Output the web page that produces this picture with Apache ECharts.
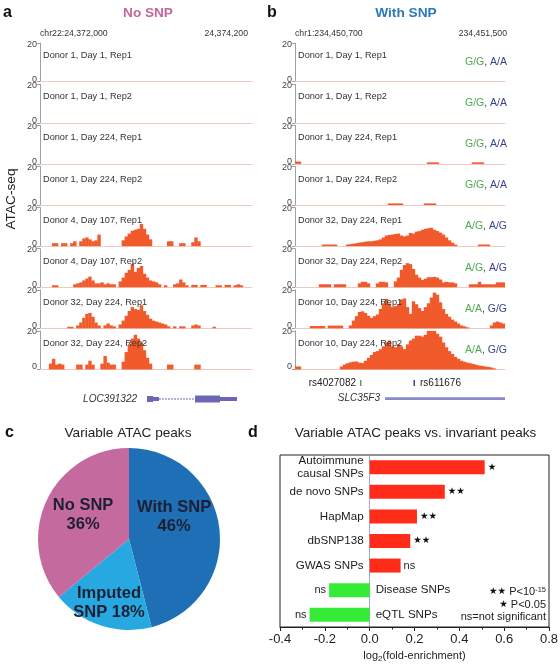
<!DOCTYPE html>
<html><head><meta charset="utf-8">
<script src="https://cdn.jsdelivr.net/npm/echarts@6/dist/echarts.min.js"></script>
<style>html,body{margin:0;padding:0;background:#fff}#c{width:560px;height:666px}</style>
</head><body><div id="c"></div>
<script>
// ---------------- DATA ----------------
const trackLabelsA = ['Donor 1, Day 1, Rep1','Donor 1, Day 1, Rep2','Donor 1, Day 224, Rep1','Donor 1, Day 224, Rep2','Donor 4, Day 107, Rep1','Donor 4, Day 107, Rep2','Donor 32, Day 224, Rep1','Donor 32, Day 224, Rep2'];
const trackLabelsB = ['Donor 1, Day 1, Rep1','Donor 1, Day 1, Rep2','Donor 1, Day 224, Rep1','Donor 1, Day 224, Rep2','Donor 32, Day 224, Rep1','Donor 32, Day 224, Rep2','Donor 10, Day 224, Rep1','Donor 10, Day 224, Rep2'];
const genoSnp1 = ['G/G','G/G','G/G','G/G','A/G','A/G','A/A','A/A'];
const genoSnp2 = ['A/A','A/A','A/A','A/A','A/G','A/G','G/G','G/G'];
const trackTickLabels = [0, 20];

// coverage per 70 bins (panel a)
const a1 = [0,0,0,0,0,0,0,0,0,0, 0,0,0,0,0,0,0,0,0,0, 0,0,0,0,0,0,0,0,0,0, 0,0,0,0,0,0,0,0,0,0, 0,0,0,0,0,0,0,0,0,0, 0,0,0,0,0,0,0,0,0,0, 0,0,0,0,0,0,0,0,0,0];
const a2 = [0,0,0,0,0,0,0,0,0,0, 0,0,0,0,0,0,0,0,0,0, 0,0,0,0,0,0,0,0,0,0, 0,0,0,0,0,0,0,0,0,0, 0,0,0,0,0,0,0,0,0,0, 0,0,0,0,0,0,0,0,0,0, 0,0,0,0,0,0,0,0,0,0];
const a3 = [0,0,0,0,0,0,0,0,0,0, 0,0,0,0,0,0,0,0,0,0, 0,0,0,0,0,0,0,0,0,0, 0,0,0,0,0,0,0,0,0,0, 0,0,0,0,0,0,0,0,0,0, 0,0,0,0,0,0,0,0,0,0, 0,0,0,0,0,0,0,0,0,0];
const a4 = [0,0,0,0,0,0,0,0,0,0, 0,0,0,0,0,0,0,0,0,0, 0,0,0,0,0,0,0,0,0,0, 0,0,0,0,0,0,0,0,0,0, 0,0,0,0,0,0,0,0,0,0, 0,0,0,0,0,0,0,0,0,0, 0,0,0,0,0,0,0,0,0,0];
const a5 = [0,0,0,0,1.5,1.5,0,1.5,1.5,0, 1.5,2.5,0,2.5,4,4.5,3.5,2.5,3,6, 0,0,0,0,0,0,0,3,5,6.5, 8,8.5,9,11.5,9,6,3.5,0,0,0, 0,0,2.5,2.5,0,0,1.5,1.5,0,0, 2,4.5,2.5,0,0,0,0,0,0,0, 0,0,0,0,0,0,0,0,0,0];
const a6 = [0,0,0,0,1,1,0,0,0,0, 0,1.5,2,2.5,3.5,4.5,5.5,3.5,2,2, 2.5,1.5,2,1.5,1.5,0,3,5,7.5,9, 12,8,10,11,7,5,3.5,3,2.5,1.5, 0,1,0,0,1.5,2,4,2.5,1,0, 1.2,1.2,0,1.2,1.2,0,0,0,1,1, 0,1.2,1.2,0,1,1.5,1,0,0,0];
const a7 = [0,0,0,0,0,0,0,0,0,0.8, 0.8,0,1.5,3,5.5,7.5,8,6,3,1.5, 0,1.5,2.5,1.5,1,0,2,4,6.5,9, 11,10,9.5,12,9,7,5,4,3.5,3, 2.5,2,1,0,1,0,1,1,0,0, 1.5,2,1.5,0,0,0,0,0.8,0,0, 0,0,0,0,0,0,0,0,0,0];
const a8 = [0,0,0,3,5.5,2.5,3,2.5,0,0, 0,0,2.5,2.5,0,2.5,4.5,2.5,0,0, 3,7,3.5,2.5,2.5,0,0,4,9,13, 16,18,16,14,10,6,3,0,0,0, 0,0,2.5,2.5,0,0,0,0,0,0, 0,2.5,2.5,0,0,0,0,0,0,0, 0,0,0,0,0,0,0,0,0,0];
// coverage per 70 bins (panel b)
const b1 = [0,0,0,0,0,0,0,0,0,0, 0,0,0,0,0,0,0,0,0,0, 0,0,0,0,0,0,0,0,0,0, 0,0,0,0,0,0,0,0,0,0, 0,0,0,0,0,0,0,0,0,0, 0,0,0,0,0,0,0,0,0,0, 0,0,0,0,0,0,0,0,0,0];
const b2 = [0,0,0,0,0,0,0,0,0,0, 0,0,0,0,0,0,0,0,0,0, 0,0,0,0,0,0,0,0,0,0, 0,0,0,0,0,0,0,0,0,0, 0,0,0,0,0,0,0,0,0,0, 0,0,0,0,0,0,0,0,0,0, 0,0,0,0,0,0,0,0,0,0];
const b3 = [1.2,1.2,0,0,0,0,0,0,0,0, 0,0,0,0,0,0,0,0,0,0, 0,0,0,0,0,0,0,0,0,0, 0,0,0,0,0,0,0,0,0,0, 0,0,0,0,0.8,0.8,0.8,0.8,0,0, 0,0,0,0,0,0,0,0,0,0.8, 0.8,0.8,0.8,0,0,0,0,0,0,0];
const b4 = [0,0,0,0,0,0,0,0,0,0, 0,0,0,0,0,0,0,0,0,0, 0,0,0,0,0,0,0,0,0,0, 0,0.8,0.8,0.8,0.8,0.8,0,0,0,0, 0,0,0,0.8,0.8,0.8,0.8,0,0,0, 0,0,0,0,0,0,0,0,0,0, 0,0,0,0,0,0,0,0,0,0];
const b5 = [0,0,0,0,0,0,0,0,0,0.8, 0.8,0.8,0.8,0.8,0,0,0,0.8,1,1.2, 1.5,1.8,2,2.3,2.5,2.5,2.8,3,3.5,4.5, 5.5,5.8,6,6.3,6.5,5.5,5,5.5,6.8,6.5, 7.5,7.8,8.5,9,9.3,9.5,8.5,7.8,7,6, 4.5,3,1.8,0.8,0,0,0,0,0,0, 0,0.8,0.8,0.8,0.8,0,0,0,0,0];
const b6 = [0,0,0,0,0,0,0,0,1.5,1.5, 1.5,1.5,0,1.5,1.5,1.5,1.5,0,0,0, 0,2,2.8,2.8,2,0,0,2,2.8,2.8, 2.5,0,0,3,5,9,11.5,12.5,12,9.5, 6.5,5,3.8,4.5,5.2,5.2,5.4,5,4,2.5, 2.8,2.5,2.5,2,0,0,0,0,1.5,1.5, 1.5,2.8,1.5,1.5,1.5,1.5,1.5,2.5,2.5,2.5];
const b7 = [0,0,0,0,0,1.2,1.2,1.2,1.2,1.2, 0,1.4,1.4,1.4,1.4,1.4,0,0,1.5,4, 6.3,8.5,8.8,8,6.5,5.4,6.3,7.2,10,13, 15.3,12.8,11,11.5,12.5,15,15.5,11,7.5,14, 12.5,10.5,9,11,13,16,18.5,17.5,13.5,10, 7.5,6,4.5,3.5,2.5,1.5,1,0.5,0,0, 0,0,0,0,0,1.5,3,3.5,3,2.5];
const b8 = [1.5,1.5,0,0,0,0,0,0,0,0, 0,0,0,0,0,1.5,2.5,3.2,3.7,4, 4.1,3.5,3.3,4.5,6,7.5,9,9.5,10.5,12, 14,15,12,11.5,13,12,10.5,13,15,16, 17.5,17.5,17,18,20,20,20,18.5,17,14, 11.5,9.5,8,6.5,5.5,4.5,4,3.5,3.2,2.8, 2.4,2,1.8,1.5,1.3,1,0.5,0,0,0];

// panel c
const pieNames = ['With SNP', 'Imputed SNP', 'No SNP'];
const pieValues = [46, 18, 36];

// panel d
const dCats = ['Autoimmune\ncausal SNPs', 'de novo SNPs', 'HapMap', 'dbSNP138', 'GWAS SNPs', 'Disease SNPs', 'eQTL SNPs'];
const dVals = [0.513, 0.335, 0.211, 0.181, 0.138, -0.181, -0.268];
const dSig = ['★', '★★', '★★', '★★', 'ns', 'ns', 'ns'];
const dTicks = [-0.4, -0.2, 0.0, 0.2, 0.4, 0.6, 0.8];

// ---------------- LAYOUT / STYLE ----------------
const FF = '"Liberation Sans", Arial, "DejaVu Sans", sans-serif';
const TRACK_COLOR = '#f15a2b';
const TOP0 = 43.2, STEP = 41.1, TH = 38.5;
const bins = Array.from({length: a1.length}, (_, i) => String(i));

const grids = [], xAxes = [], yAxes = [], series = [], graphics = [];

function addPanel(tracks, left, width) {
  tracks.forEach((d, i) => {
    const k = grids.length;
    grids.push({left: left, top: TOP0 + STEP * i, width: width, height: TH, containLabel: false, outerBoundsMode: 'none'});
    xAxes.push({gridIndex: k, type: 'category', data: bins, boundaryGap: true,
      axisLine: {show: true, lineStyle: {color: '#efc8be', width: 1}}, axisTick: {show: false}, axisLabel: {show: false}, splitLine: {show: false}});
    yAxes.push({gridIndex: k, type: 'value', min: trackTickLabels[0], max: trackTickLabels[1], interval: trackTickLabels[1],
      axisLine: {show: true, lineStyle: {color: '#a0a0a0'}}, axisTick: {show: true, length: 3, lineStyle: {color: '#a0a0a0'}},
      axisLabel: {fontSize: 9, color: '#444', margin: 3, fontFamily: FF,
        formatter: v => v === 0 ? '{z|0}' : '{t|' + v + '}',
        rich: {z: {fontSize: 9, color: '#444', padding: [0, 0, 5, 0]}, t: {fontSize: 9, color: '#444', padding: [2, 0, 0, 0]}}},
      splitLine: {show: false}});
    series.push({type: 'bar', xAxisIndex: k, yAxisIndex: k, data: d, barWidth: 3.4, itemStyle: {color: TRACK_COLOR}, silent: true});
  });
}
addPanel([a1, a2, a3, a4, a5, a6, a7, a8], 40, 212);
addPanel([b1, b2, b3, b4, b5, b6, b7, b8], 295, 210);

// panel d grid
const dk = grids.length;
grids.push({left: 280, top: 455, width: 269, height: 172, show: true, borderColor: '#222', borderWidth: 1, backgroundColor: 'transparent', containLabel: false, outerBoundsMode: 'none'});
xAxes.push({gridIndex: dk, type: 'value', min: dTicks[0], max: dTicks[dTicks.length - 1], interval: 0.2,
  axisLine: {show: true, onZero: false, lineStyle: {color: '#222'}},
  axisTick: {show: true, length: 4, lineStyle: {color: '#222'}},
  minorTick: {show: true, splitNumber: 2, length: 2.5, lineStyle: {color: '#222'}},
  axisLabel: {fontSize: 13, color: '#222', margin: 6, fontFamily: FF, formatter: v => (Math.abs(v) < 1e-9 ? 0 : v).toFixed(1)},
  splitLine: {show: false}, minorSplitLine: {show: false},
  name: '{n|log}{s|2}{n|(fold-enrichment)}', nameLocation: 'middle', nameGap: 22,
  nameTextStyle: {rich: {n: {fontSize: 11, fontFamily: FF, color: '#222', lineHeight: 14}, s: {fontSize: 8, fontFamily: FF, color: '#222', verticalAlign: 'bottom', lineHeight: 9}}}
});
yAxes.push({gridIndex: dk, type: 'category', inverse: true, data: dCats,
  axisLine: {show: true, onZero: true, lineStyle: {color: '#8f98b5', type: 'dotted'}},
  axisTick: {show: false}, axisLabel: {show: false}, splitLine: {show: false}});
series.push({type: 'bar', xAxisIndex: dk, yAxisIndex: dk, barWidth: 14, silent: true,
  data: dVals.map(v => ({value: v, itemStyle: {color: v >= 0 ? '#fe2c18' : '#35eb35'}, label: {position: v >= 0 ? 'right' : 'left'}})),
  label: {show: true, distance: 3, fontFamily: FF,
    formatter: p => dSig[p.dataIndex] === 'ns' ? '{ns|ns}' : '{st|' + dSig[p.dataIndex] + '}',
    rich: {ns: {fontSize: 11, color: '#222', fontFamily: FF}, st: {fontSize: 9.5, color: '#111', fontFamily: '"DejaVu Sans", sans-serif'}}}
});
// category names placed at the zero line (left of it for positive bars, right for negative)
series.push({type: 'scatter', xAxisIndex: dk, yAxisIndex: dk, symbolSize: 0, silent: true, itemStyle: {color: '#111', opacity: 1},
  data: dCats.map((c, i) => ({value: [0, i], label: {position: dVals[i] >= 0 ? 'left' : 'right'}})),
  label: {show: true, distance: 6, fontSize: 11.6, lineHeight: 13.5, color: '#1a1a1a', fontFamily: FF, formatter: p => dCats[p.value[1]]}
});

// panel c pie
const pieColors = ['#1f6fb6', '#28a8e0', '#c56a9f'];
const pieLabelShift = [[-3, -16], [-5, 18], [-2, -3]];
series.push({type: 'pie', center: [129, 539], radius: 91, startAngle: 90, clockwise: true, silent: true, avoidLabelOverlap: false,
  data: pieNames.map((n, i) => ({name: n, value: pieValues[i], itemStyle: {color: pieColors[i]}})),
  label: {show: true, position: 'inside', fontSize: 16.5, fontWeight: 'bold', color: '#1d2033', lineHeight: 19, fontFamily: FF, align: 'center',
    formatter: p => p.dataIndex === 1 ? 'Imputed\nSNP ' + p.value + '%' : p.name + '\n' + p.value + '%'},
  labelLine: {show: false},
  labelLayout: p => ({dx: pieLabelShift[p.dataIndex][0], dy: pieLabelShift[p.dataIndex][1]})
});

// ---------------- TEXT / ANNOTATIONS ----------------
function txt(x, y, text, o) {
  o = o || {};
  const st = {text: text, fontSize: o.fs || 10, fontFamily: o.ff || FF, fontWeight: o.fw || 'normal', fontStyle: o.it ? 'italic' : 'normal',
    fill: o.c || '#222', align: o.al || 'left', textAlign: o.al || 'left', verticalAlign: 'middle', textVerticalAlign: 'middle'};
  if (o.rich) st.rich = o.rich;
  graphics.push({type: 'text', x: x, y: y, rotation: o.rot || 0, silent: true, z: 100, style: st});
}
function rect(x, y, w, h, c) { graphics.push({type: 'rect', silent: true, z: 100, shape: {x: x, y: y, width: w, height: h}, style: {fill: c}}); }

txt(3, 13, 'a', {fs: 16, fw: 'bold', c: '#111'});
txt(267, 13, 'b', {fs: 16, fw: 'bold', c: '#111'});
txt(148, 13, 'No SNP', {fs: 13.6, fw: 'bold', c: '#c0679b', al: 'center'});
txt(406, 13, 'With SNP', {fs: 13.7, fw: 'bold', c: '#2b7bbb', al: 'center'});
txt(40, 33.5, 'chr22:24,372,000', {fs: 8.7, c: '#333'});
txt(248, 33.5, '24,374,200', {fs: 8.7, c: '#333', al: 'right'});
txt(295, 33.5, 'chr1:234,450,700', {fs: 8.7, c: '#333'});
txt(507, 33.5, '234,451,500', {fs: 8.7, c: '#333', al: 'right'});
txt(11, 199, 'ATAC-seq', {fs: 13.7, c: '#222', al: 'center', rot: Math.PI / 2});

trackLabelsA.forEach((l, i) => txt(43, TOP0 + STEP * i + 12.5, l, {fs: 9.2, c: '#333'}));
trackLabelsB.forEach((l, i) => txt(298, TOP0 + STEP * i + 12.5, l, {fs: 9.2, c: '#333'}));
genoSnp1.forEach((g, i) => txt(507, TOP0 + STEP * i + 19, '{g|' + g + '}{b|, ' + genoSnp2[i] + '}', {fs: 10.5, al: 'right',
  rich: {g: {fill: '#4ea84e', fontSize: 10.5, fontFamily: FF}, b: {fill: '#3b4390', fontSize: 10.5, fontFamily: FF}}}));

// gene model LOC391322
txt(137, 399, 'LOC391322', {fs: 10, it: true, c: '#333', al: 'right'});
rect(147, 396, 6, 6, '#6b67b3');
rect(153, 397, 6, 4, '#6b67b3');
graphics.push({type: 'line', silent: true, shape: {x1: 159, y1: 399, x2: 195, y2: 399}, style: {stroke: '#6b67b3', lineWidth: 1.2, lineDash: [2, 1]}});
rect(195, 395.5, 25, 7, '#6b67b3');
rect(220, 397, 17, 4, '#6b67b3');
// SNPs and gene SLC35F3
txt(356, 383, 'rs4027082', {fs: 10, c: '#222', al: 'right'});
rect(360, 380, 1.5, 6, '#4ea84e');
rect(413.5, 380, 1.5, 6, '#3b4390');
txt(420, 383, 'rs611676', {fs: 10, c: '#222'});
txt(380, 398.5, 'SLC35F3', {fs: 10, it: true, c: '#333', al: 'right'});
rect(385, 397.3, 120, 2.7, '#8a88cc');

// panel c/d titles
txt(5, 433, 'c', {fs: 16, fw: 'bold', c: '#111'});
txt(248, 433, 'd', {fs: 16, fw: 'bold', c: '#111'});
txt(128, 433, 'Variable ATAC peaks', {fs: 13.6, c: '#222', al: 'center'});
txt(415.5, 433, 'Variable ATAC peaks vs. invariant peaks', {fs: 13.5, c: '#222', al: 'center'});
// panel d key
const keyRich = {s: {fontSize: 9.5, fill: '#111', fontFamily: '"DejaVu Sans", sans-serif'}, t: {fontSize: 11, fill: '#222', fontFamily: FF, lineHeight: 13}, u: {fontSize: 7.5, fill: '#222', fontFamily: FF, verticalAlign: 'top', lineHeight: 8}};
txt(546, 592, '{s|★★}{t| P<10}{u|-15}', {al: 'right', rich: keyRich});
txt(546, 604.5, '{s|★}{t| P<0.05}', {al: 'right', rich: keyRich});
txt(546, 617, 'ns=not significant', {fs: 11, c: '#222', al: 'right'});

const chart = echarts.init(document.getElementById('c'), null, {renderer: 'canvas'});
chart.setOption({
  animation: false,
  backgroundColor: '#fff',
  textStyle: {fontFamily: FF},
  grid: grids, xAxis: xAxes, yAxis: yAxes, series: series, graphic: graphics
});
</script></body></html>
